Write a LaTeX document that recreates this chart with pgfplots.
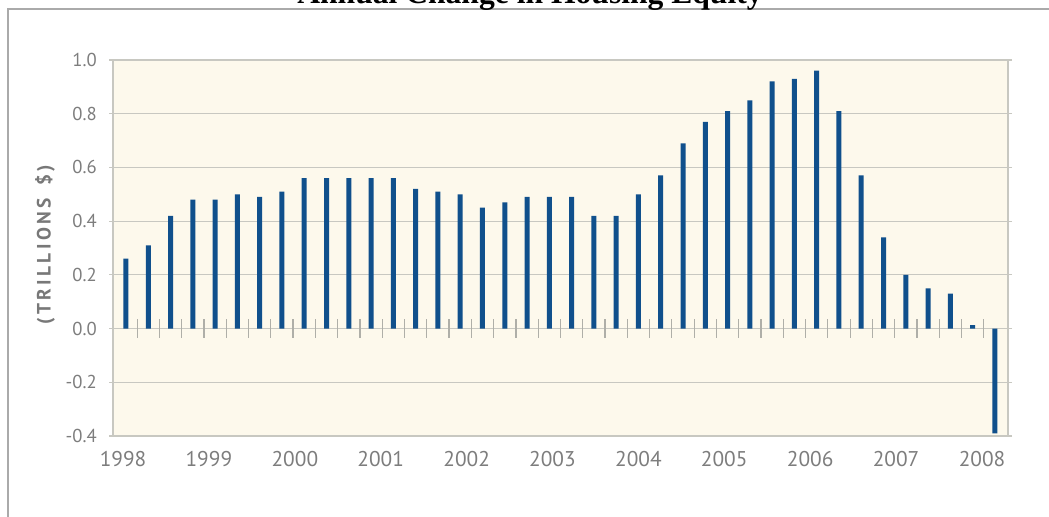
\documentclass[border=0pt]{standalone}
\usepackage{pgfplots}
\pgfplotsset{compat=1.18}
\usepackage{pgfplotstable}
\usepackage{fontspec}
\setmainfont{Liberation Serif}
\newfontfamily\ptsans{PT Sans}
\definecolor{barblue}{RGB}{16,80,140}
\definecolor{cream}{RGB}{253,249,236}
\definecolor{gridgray}{RGB}{200,200,193}
\definecolor{tickgray}{RGB}{175,175,168}
\definecolor{labgray}{RGB}{125,125,125}
\definecolor{ylabgray}{RGB}{120,120,120}
\definecolor{framegray}{RGB}{170,170,170}
\def\ls{\kern2.6pt}

\pgfplotstableread{
x y
0 0.26
1 0.31
2 0.42
3 0.48
4 0.48
5 0.50
6 0.49
7 0.51
8 0.56
9 0.56
10 0.56
11 0.56
12 0.56
13 0.52
14 0.51
15 0.50
16 0.45
17 0.47
18 0.49
19 0.49
20 0.49
21 0.42
22 0.42
23 0.50
24 0.57
25 0.69
26 0.77
27 0.81
28 0.85
29 0.92
30 0.93
31 0.96
32 0.81
33 0.57
34 0.34
35 0.20
36 0.15
37 0.13
38 0.013
39 -0.39
}\equitydata

\begin{document}
\begin{tikzpicture}
\useasboundingbox (0,0) rectangle (786.75pt,387.75pt);
\draw[framegray, line width=1pt] (6pt,0pt) -- (6pt,381pt) -- (786.75pt,381pt);
\node[anchor=base, font=\fontsize{23.7}{28}\selectfont\bfseries] at (397.5pt,384.75pt) {Annual Change in Housing Equity};
\node[rotate=90, text=ylabgray, font=\ptsans\bfseries\fontsize{14.5}{16}\selectfont] at (33.75pt,204pt) {(\ls T\ls R\ls I\ls L\ls L\ls I\ls O\ls N\ls S\ls\ \ls\$\ls)};
\begin{axis}[
  at={(84.75pt,60.75pt)}, anchor=south west,
  width=671.25pt, height=282pt, scale only axis,
  xmin=-0.583, xmax=39.587, ymin=-0.4, ymax=1.0,
  axis background/.style={fill=cream},
  axis line style={gridgray, line width=0.9pt},
  ytick={-0.4,-0.2,0,0.2,0.4,0.6,0.8,1.0},
  yticklabels={-0.4,-0.2,0.0,0.2,0.4,0.6,0.8,1.0},
  ymajorgrids, grid style={gridgray, line width=0.9pt},
  tick align=outside, major tick length=3pt,
  ytick style={gridgray, line width=0.9pt},
  xtick style={draw=none},
  xtick={-0.13,3.72,7.58,11.43,15.29,19.14,23.0,26.85,30.71,34.56,38.42},
  xticklabels={1998,1999,2000,2001,2002,2003,2004,2005,2006,2007,2008},
  yticklabel style={text=labgray, font=\ptsans\fontsize{14}{16}\selectfont, inner sep=0pt, anchor=east, xshift=-9pt},
  xticklabel style={text=labgray, font=\ptsans\fontsize{16}{18}\selectfont, anchor=center, yshift=-14.6pt},
  clip=false,
]
\pgfplotsinvokeforeach{0,...,38}{
  \draw[tickgray, line width=0.9pt] (axis cs:#1.5,-0.034) -- (axis cs:#1.5,0.034);
}
\addplot[ybar, bar width=3.75pt, fill=barblue, draw=none] table[x=x,y=y] {\equitydata};
\end{axis}
\end{tikzpicture}
\end{document}
